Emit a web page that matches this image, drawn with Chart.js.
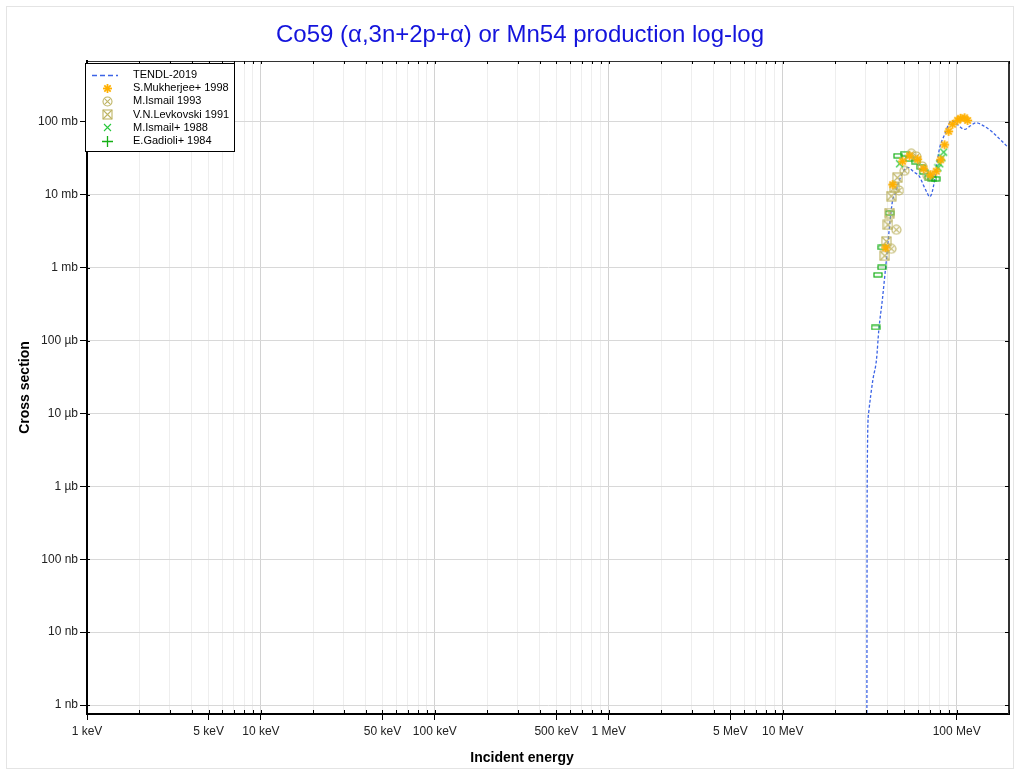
<!DOCTYPE html>
<html>
<head>
<meta charset="utf-8">
<script src="https://cdn.jsdelivr.net/npm/chart.js@4.4.1/dist/chart.umd.min.js"></script>
<style>
  html, body { margin: 0; padding: 0; background: #fff; }
</style>
</head>
<body>
<canvas id="xsChart" width="1020" height="774"></canvas>
<script>
// energies in MeV, cross sections in mb
const tendlE  = [30.45, 30.6, 31.2, 33.0, 34.6, 35.7, 37.4, 39.1, 42.9, 44.0, 45.9, 48.3, 52.3, 56.6, 61.3, 64.5, 67.5, 69.8, 71.6, 74.8, 76.4, 79.9, 85.3, 91.0, 93.5, 101.3, 111.1, 120.0, 129.3, 143.0, 158.0, 176.5, 201.0];
const tendlXS = [1e-7, 1.2e-3, 0.0103, 0.0291, 0.0547, 0.141, 0.364, 1.03, 8.6, 9.7, 13.8, 18.9, 23.9, 20.7, 17.7, 13.5, 10.8, 9.4, 10.1, 16.3, 23.5, 44.4, 67.4, 97.6, 103.9, 91.7, 79.0, 88.7, 97.9, 88.4, 75.0, 58.7, 43.0];

const mukherjeeE  = [39.1, 42.9, 48.9, 53.7, 59.7, 64.6, 70.9, 76.4, 80.9, 85.3, 90.0, 94.8, 101.3, 105.4, 111.2, 115.7];
const mukherjeeXS = [1.88, 13.8, 28.9, 34.4, 30.8, 22.8, 18.9, 21.1, 30.3, 48.7, 74.5, 93.0, 105.5, 112.4, 114.2, 104.9];

const ismail93E  = [42.1, 45.0, 46.6, 50.2, 54.9, 58.7, 63.5, 68.1];
const ismail93XS = [1.82, 3.32, 11.5, 21.4, 36.6, 33.6, 24.5, 18.3];

const levkovskiE  = [38.6, 39.4, 40.3, 41.2, 42.1, 44.0, 45.6];
const levkovskiXS = [1.46, 2.30, 3.89, 5.63, 9.63, 12.5, 17.2];

const ismail88E  = [47.0, 78.1, 79.9, 82.3, 84.2];
const ismail88XS = [26.7, 23.5, 26.7, 32.3, 38.6];

const gadioliE  = [34.2, 35.3, 37.2, 37.4, 41.2, 46.0, 50.2, 53.7, 58.1, 62.7, 64.6, 69.3, 72.5, 75.7];
const gadioliXS = [0.152, 0.80, 1.01, 1.90, 5.63, 34.4, 36.6, 31.0, 28.7, 24.1, 20.6, 17.3, 16.5, 16.6];

const xLabelValues = [0.001, 0.005, 0.01, 0.05, 0.1, 0.5, 1, 5, 10, 100];
const xLabelTexts  = ['1 keV', '5 keV', '10 keV', '50 keV', '100 keV', '500 keV', '1 MeV', '5 MeV', '10 MeV', '100 MeV'];
const yTickValues  = [1e-6, 1e-5, 1e-4, 1e-3, 1e-2, 1e-1, 1, 10, 100];
const yTickLabels  = ['1 nb', '10 nb', '100 nb', '1 µb', '10 µb', '100 µb', '1 mb', '10 mb', '100 mb'];

const chartTitle = 'Co59 (α,3n+2p+α) or Mn54 production log-log';
const xTitle = 'Incident energy';
const yTitle = 'Cross section';

const xMin = 0.001, xMax = 200;
const yMin = 7.53e-7, yMax = 687;

// gridline positions: 1..9 per decade
const xGridValues = [];
for (let k = -3; k <= 2; k++) {
  for (let m = 1; m <= 9; m++) {
    const v = Number((m * Math.pow(10, k)).toPrecision(6));
    if (v <= xMax) xGridValues.push(v);
  }
}

const same = (a, b) => Math.abs(a - b) <= Math.abs(b) * 1e-6;
const isDecade = v => Math.abs(Math.log10(v) - Math.round(Math.log10(v))) < 1e-6;
const xLabelFor = v => {
  const i = xLabelValues.findIndex(l => same(v, l));
  return i >= 0 ? xLabelTexts[i] : '';
};
const yLabelFor = v => {
  const i = yTickValues.findIndex(l => same(v, l));
  return i >= 0 ? yTickLabels[i] : '';
};

const fontFamily = '"Liberation Sans", Arial, sans-serif';
const tendlColor = 'rgb(60,100,230)';
const orange = 'rgb(255,176,0)';
const khaki = 'rgb(190,180,100)';
const greenX = 'rgb(40,200,60)';
const greenP = 'rgb(20,175,20)';

function marker(w, h, draw) {
  const c = document.createElement('canvas');
  c.width = w; c.height = h;
  const g = c.getContext('2d');
  draw(g, w / 2, h / 2);
  return c;
}
const starMark = marker(11, 11, (g, cx, cy) => {
  g.strokeStyle = orange; g.lineWidth = 1.8;
  for (let i = 0; i < 4; i++) {
    const a = i * Math.PI / 4, r = 4.5;
    g.beginPath();
    g.moveTo(cx - r * Math.cos(a), cy - r * Math.sin(a));
    g.lineTo(cx + r * Math.cos(a), cy + r * Math.sin(a));
    g.stroke();
  }
});
const circleXMark = marker(11, 11, (g, cx, cy) => {
  g.strokeStyle = khaki; g.lineWidth = 1.1;
  g.beginPath(); g.arc(cx, cy, 4.5, 0, Math.PI * 2); g.stroke();
  g.beginPath();
  g.moveTo(cx - 3.2, cy - 3.2); g.lineTo(cx + 3.2, cy + 3.2);
  g.moveTo(cx + 3.2, cy - 3.2); g.lineTo(cx - 3.2, cy + 3.2);
  g.stroke();
});
const squareXMark = marker(11, 11, (g, cx, cy) => {
  g.strokeStyle = khaki; g.lineWidth = 1.1;
  g.strokeRect(cx - 4.5, cy - 4.5, 9, 9);
  g.beginPath();
  g.moveTo(cx - 4.5, cy - 4.5); g.lineTo(cx + 4.5, cy + 4.5);
  g.moveTo(cx + 4.5, cy - 4.5); g.lineTo(cx - 4.5, cy + 4.5);
  g.stroke();
});
const crossXMark = marker(9, 9, (g, cx, cy) => {
  g.strokeStyle = greenX; g.lineWidth = 1.1;
  g.beginPath();
  g.moveTo(cx - 3.5, cy - 3.5); g.lineTo(cx + 3.5, cy + 3.5);
  g.moveTo(cx + 3.5, cy - 3.5); g.lineTo(cx - 3.5, cy + 3.5);
  g.stroke();
});
const plusMark = marker(13, 13, (g, cx, cy) => {
  g.strokeStyle = greenP; g.lineWidth = 1.3;
  g.beginPath();
  g.moveTo(cx - 5.5, cy); g.lineTo(cx + 5.5, cy);
  g.moveTo(cx, cy - 5.5); g.lineTo(cx, cy + 5.5);
  g.stroke();
});
const boxMark = marker(10, 6, (g) => {
  g.strokeStyle = greenP; g.lineWidth = 1.2;
  g.strokeRect(1, 1, 8, 4);
});

const pts = (xs, ys) => xs.map((x, i) => ({ x: x, y: ys[i] }));

const legendPlugin = {
  id: 'boxLegend',
  afterDraw(chart) {
    const ctx = chart.ctx;
    const bx = 85.5, by = 63.5, bw = 149, bh = 88;
    ctx.save();
    ctx.fillStyle = '#fff';
    ctx.fillRect(bx, by, bw, bh);
    ctx.strokeStyle = '#000'; ctx.lineWidth = 1;
    ctx.strokeRect(bx, by, bw, bh);
    ctx.font = '11px ' + fontFamily;
    ctx.textBaseline = 'middle';
    ctx.fillStyle = '#000';
    chart.data.datasets.forEach((ds, i) => {
      const ry = 75 + i * 13.2;
      if (ds.legendMark) {
        const m = ds.legendMark;
        ctx.drawImage(m, Math.round(107 - m.width / 2), Math.round(ry - m.height / 2));
      } else {
        ctx.strokeStyle = ds.borderColor; ctx.lineWidth = 1.6;
        ctx.setLineDash([5, 3]);
        ctx.beginPath(); ctx.moveTo(92, Math.round(ry) + 0.5); ctx.lineTo(118, Math.round(ry) + 0.5); ctx.stroke();
        ctx.setLineDash([]);
      }
      ctx.fillText(ds.label, 133, ry);
    });
    ctx.restore();
  }
};

const framePlugin = {
  id: 'frame',
  beforeDraw(chart) {
    const ctx = chart.ctx;
    ctx.save();
    ctx.strokeStyle = '#e4e4e4'; ctx.lineWidth = 1;
    ctx.strokeRect(6.5, 6.5, 1007, 762);
    // titles
    ctx.textAlign = 'center'; ctx.textBaseline = 'middle';
    ctx.fillStyle = '#1414dc';
    ctx.font = '24px ' + fontFamily;
    ctx.fillText(chartTitle, 520, 35);
    ctx.fillStyle = '#000';
    ctx.font = 'bold 14px ' + fontFamily;
    ctx.fillText(xTitle, 522, 758);
    ctx.restore();
  },
  afterDatasetsDraw(chart) {
    const { ctx, chartArea: a, scales: { x, y } } = chart;
    ctx.save();
    ctx.strokeStyle = '#333';
    ctx.lineWidth = 2;
    ctx.beginPath(); ctx.moveTo(a.right, a.top); ctx.lineTo(a.right, a.bottom); ctx.stroke();
    ctx.lineWidth = 1;
    ctx.beginPath(); ctx.moveTo(a.left, a.top + 0.5); ctx.lineTo(a.right, a.top + 0.5); ctx.stroke();
    ctx.strokeStyle = '#000';
    ctx.beginPath();
    x.ticks.forEach(t => {
      const px = Math.round(x.getPixelForValue(t.value)) + 0.5;
      ctx.moveTo(px, a.bottom - 4); ctx.lineTo(px, a.bottom);
      ctx.moveTo(px, a.top); ctx.lineTo(px, a.top + 3);
    });
    y.ticks.forEach(t => {
      const py = Math.round(y.getPixelForValue(t.value)) + 0.5;
      ctx.moveTo(a.left, py); ctx.lineTo(a.left + 3, py);
      ctx.moveTo(a.right - 4, py); ctx.lineTo(a.right, py);
    });
    ctx.stroke();
    ctx.restore();
  }
};

Chart.defaults.font.family = fontFamily;

new Chart(document.getElementById('xsChart').getContext('2d'), {
  type: 'scatter',
  data: {
    datasets: [{
      label: 'TENDL-2019',
      data: pts(tendlE, tendlXS),
      showLine: true,
      borderColor: tendlColor,
      borderWidth: 1.3,
      borderDash: [3, 2],
      pointRadius: 0,
      cubicInterpolationMode: 'monotone',
      order: 10
    }, {
      label: 'S.Mukherjee+ 1998',
      data: pts(mukherjeeE, mukherjeeXS),
      pointStyle: starMark, legendMark: starMark, order: 1
    }, {
      label: 'M.Ismail 1993',
      data: pts(ismail93E, ismail93XS),
      pointStyle: circleXMark, legendMark: circleXMark, order: 3
    }, {
      label: 'V.N.Levkovski 1991',
      data: pts(levkovskiE, levkovskiXS),
      pointStyle: squareXMark, legendMark: squareXMark, order: 4
    }, {
      label: 'M.Ismail+ 1988',
      data: pts(ismail88E, ismail88XS),
      pointStyle: crossXMark, legendMark: crossXMark, order: 2
    }, {
      label: 'E.Gadioli+ 1984',
      data: pts(gadioliE, gadioliXS),
      pointStyle: boxMark, legendMark: plusMark, order: 5
    }]
  },
  options: {
    responsive: false,
    animation: false,
    devicePixelRatio: 1,
    layout: { padding: { left: 0, right: 11, top: 61, bottom: 0 } },
    plugins: {
      legend: { display: false },
      tooltip: { enabled: false },
      title: { display: false }
    },
    scales: {
      x: {
        type: 'logarithmic',
        position: 'bottom',
        min: xMin, max: xMax,
        afterBuildTicks: s => { s.ticks = xGridValues.map(v => ({ value: v })); },
        afterFit: s => { s.height = 60; },
        ticks: {
          autoSkip: false, maxRotation: 0, minRotation: 0, padding: 4,
          color: '#222', font: { size: 12 },
          callback: v => xLabelFor(v)
        },
        grid: {
          color: c => (c.tick && isDecade(c.tick.value)) ? '#d2d2d2' : '#eeeeee',
          tickLength: 6,
          tickColor: c => (c.tick && xLabelFor(c.tick.value)) ? '#000' : 'rgba(0,0,0,0)'
        },
        border: { color: '#000', width: 2 },
        title: { display: false }
      },
      y: {
        type: 'logarithmic',
        position: 'left',
        min: yMin, max: yMax,
        afterBuildTicks: s => { s.ticks = yTickValues.map(v => ({ value: v })); },
        afterFit: s => { s.width = 87; },
        ticks: {
          autoSkip: false, padding: 2, color: '#222', font: { size: 12 },
          callback: v => yLabelFor(v)
        },
        grid: { color: '#d8d8d8', tickLength: 7, tickColor: '#000' },
        border: { color: '#000', width: 2 },
        title: {
          display: true, text: yTitle, color: '#000',
          font: { size: 14, weight: 'bold' }, padding: { top: 17, bottom: 0 }
        }
      }
    }
  },
  plugins: [framePlugin, legendPlugin]
});
</script>
</body>
</html>
